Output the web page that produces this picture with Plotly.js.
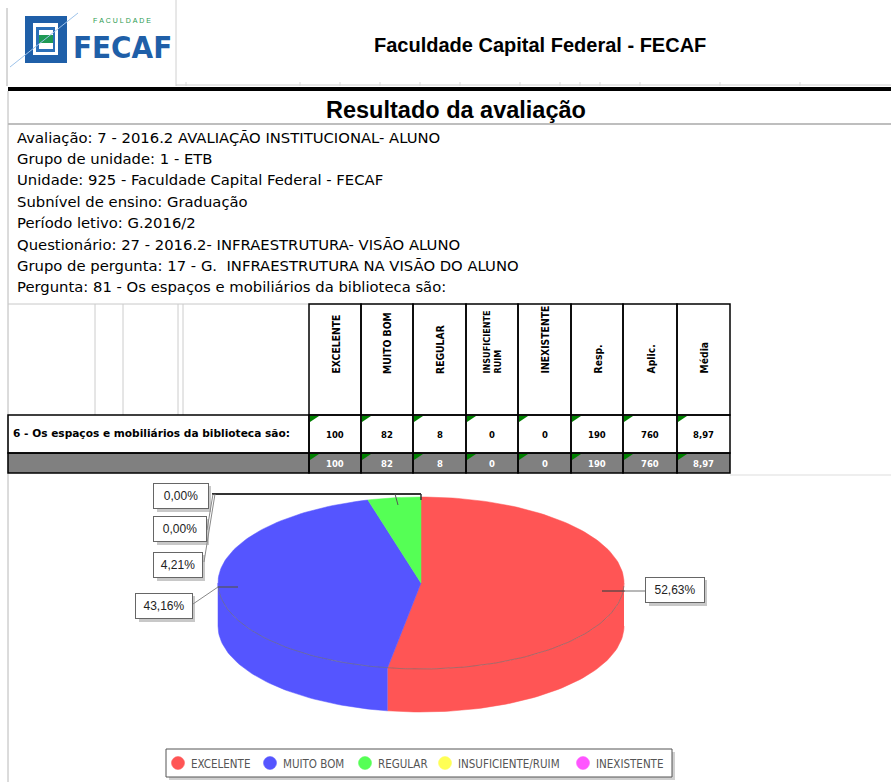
<!DOCTYPE html>
<html><head><meta charset="utf-8">
<script src="https://cdn.plot.ly/plotly-3.0.1.min.js"></script>
<style>html,body{margin:0;padding:0;background:#fff;overflow:hidden}#chart{width:891px;height:782px}</style>
</head><body><div id="chart"></div>
<script>
// ---------------- DATA ----------------
const categories = ['EXCELENTE', 'MUITO BOM', 'REGULAR', 'INSUFICIENTE/RUIM', 'INEXISTENTE'];
const headerLabels = ['EXCELENTE', 'MUITO BOM', 'REGULAR', 'INSUFICIENTE<br>RUIM', 'INEXISTENTE', 'Resp.', 'Aplic.', 'Média'];
const counts = [100, 82, 8, 0, 0];
const respondents = 190;
const applied = 760;
const mediaValue = '8,97';
const sliceColors = ['#FF5555', '#5555FF', '#55FF55', '#FFFF55', '#FF55FF'];
const infoLines = [
  'Avaliação: 7 - 2016.2 AVALIAÇÃO INSTITUCIONAL- ALUNO',
  'Grupo de unidade: 1 - ETB',
  'Unidade: 925 - Faculdade Capital Federal - FECAF',
  'Subnível de ensino: Graduação',
  'Período letivo: G.2016/2',
  'Questionário: 27 - 2016.2- INFRAESTRUTURA- VISÃO ALUNO',
  'Grupo de pergunta: 17 - G.  INFRAESTRUTURA NA VISÃO DO ALUNO',
  'Pergunta: 81 - Os espaços e mobiliários da biblioteca são:'
];
const questionLabel = '6 - Os espaços e mobiliários da biblioteca são:';
const headerTitle = 'Faculdade Capital Federal - FECAF';
const reportTitle = 'Resultado da avaliação';

// ---------------- LAYOUT CONSTANTS ----------------
const W = 891, H = 782;
const shapes = [], annotations = [], traces = [];
const NARROW = 'Liberation Sans Narrow, DejaVu Sans Condensed, Arial Narrow, sans-serif';
const SANS = 'Liberation Sans, Arial, sans-serif';

function line(x0, y0, x1, y1, color, width) {
  shapes.push({type: 'line', xref: 'x', yref: 'y', x0, y0, x1, y1, line: {color, width}});
}
function rect(x0, y0, x1, y1, fill, color, width) {
  shapes.push({type: 'rect', xref: 'x', yref: 'y', x0, y0, x1, y1, fillcolor: fill,
    line: {color: color || 'rgba(0,0,0,0)', width: width || 0}});
}
function text(t, x, y, opts) {
  annotations.push(Object.assign({text: t, x, y, xref: 'x', yref: 'y', showarrow: false,
    xanchor: 'left', yanchor: 'middle', font: {family: SANS, size: 12, color: '#000'}}, opts || {}));
}

// ---------------- HEADER ----------------
line(7, 8, 7, 86, '#b0b0b0', 1);
line(176, 0, 176, 86, '#d0d0d0', 1);
line(176, 85, W, 85, '#d0d0d0', 1);
[186, 300, 340, 380, 420, 460, 520, 560, 580, 600, 640, 720, 800].forEach(x => line(x, 82, x, 86, '#d8d8d8', 1));
rect(8, 87, W, 91, '#000');

// logo
rect(25, 16, 67, 63, '#1f5fa8');
rect(33, 23, 58, 55, '#ffffff');
rect(36, 27, 55, 52, '#2b6fb8');
rect(39, 30, 53, 49, '#ffffff');
rect(39, 35, 53, 43, '#1f9a55');
line(10, 67, 78, 13, '#9ec3ea', 1);
text('F\u00a0A\u00a0C\u00a0U\u00a0L\u00a0D\u00a0A\u00a0D\u00a0E', 122, 20, {xanchor: 'center', font: {family: SANS, size: 7, color: '#2a9a50'}});
text('<b>FECAF</b>', 122, 47, {xanchor: 'center', font: {family: 'DejaVu Sans Condensed, sans-serif', size: 31, color: '#1f5fa8'}});

text('<b>' + headerTitle + '</b>', 540, 45, {xanchor: 'center', font: {family: SANS, size: 20, color: '#000'}});

// ---------------- TITLE & INFO ----------------
text('<b>' + reportTitle + '</b>', 456, 110, {xanchor: 'center', font: {family: SANS, size: 23.5, color: '#000'}});
line(8, 124, W, 124, '#a8a8a8', 1.5);
line(8, 91, 8, H, '#b8b8b8', 1);
infoLines.forEach((t, i) => {
  text(t, 15, 137 + i * 21.4, {font: {family: 'DejaVu Sans, sans-serif', size: 14.8, color: '#000'}});
});

// ---------------- TABLE ----------------
const colB = [309, 361, 413, 466, 518, 571, 623, 677, 730];
const hTop = 304, hBot = 415, rBot = 453, tBot = 473;
line(8, hTop, 309, hTop, '#c8c8c8', 1);
[95, 123, 178, 183].forEach(x => line(x, hTop, x, hBot, '#cccccc', 1));
rect(8, rBot, 730, tBot, '#808080');
rect(8, hBot, 309, rBot, 'rgba(0,0,0,0)', '#000', 1.5);
rect(8, rBot, 309, tBot, 'rgba(0,0,0,0)', '#000', 1.5);
for (let c = 0; c < 8; c++) {
  const x0 = colB[c], x1 = colB[c + 1];
  rect(x0, hTop, x1, hBot, 'rgba(0,0,0,0)', '#000', 1.5);
  rect(x0, hBot, x1, rBot, 'rgba(0,0,0,0)', '#000', 1.5);
  rect(x0, rBot, x1, tBot, 'rgba(0,0,0,0)', '#000', 1.5);
  [hBot, rBot].forEach(y0 => {
    shapes.push({type: 'path', xref: 'x', yref: 'y',
      path: `M${x0 + 1},${y0 + 1} L${x0 + 10},${y0 + 1} L${x0 + 1},${y0 + 7} Z`,
      fillcolor: '#008000', line: {width: 0}});
  });
  const cx = (x0 + x1) / 2;
  const twoLine = headerLabels[c].indexOf('<br>') >= 0;
  annotations.push({text: '<b>' + headerLabels[c] + '</b>', x: cx, y: 376, xref: 'x', yref: 'y',
    showarrow: false, textangle: -90, xanchor: 'center', yanchor: 'bottom', align: 'left',
    font: {family: NARROW, size: twoLine ? 9 : 10.3, color: '#000'}});
}
const rowValues = counts.map(String).concat([String(respondents), String(applied), mediaValue]);
rowValues.forEach((v, c) => {
  const cx = (colB[c] + colB[c + 1]) / 2;
  text('<b>' + v + '</b>', cx, 435, {xanchor: 'center', font: {family: 'DejaVu Sans, sans-serif', size: 8.5, color: '#000'}});
  text('<b>' + v + '</b>', cx, 464, {xanchor: 'center', font: {family: 'DejaVu Sans, sans-serif', size: 8.5, color: '#fff'}});
});
text('<b>' + questionLabel + '</b>', 11, 433, {font: {family: 'DejaVu Sans, sans-serif', size: 10.6, color: '#000'}});
line(730, 475, W, 475, '#dddddd', 1);

// ---------------- 3D PIE ----------------
const pcx = 421, pcy = 583, prx = 203, pry = 86, depth = 43;
const total = counts.reduce((a, b) => a + b, 0);
function pt(deg, dy) {
  const r = deg * Math.PI / 180;
  return [pcx + prx * Math.sin(r), pcy - pry * Math.cos(r) + dy];
}
function arcPts(a0, a1, dy) {
  const n = Math.max(2, Math.ceil(Math.abs(a1 - a0) / 1.5));
  const out = [];
  for (let i = 0; i <= n; i++) out.push(pt(a0 + (a1 - a0) * i / n, dy));
  return out;
}
const slices = [];
let acc = 0;
counts.forEach((v, i) => {
  const a0 = acc / total * 360, a1 = (acc + v) / total * 360;
  slices.push({a0, a1, color: sliceColors[i], value: v});
  acc += v;
});
slices.forEach(s => {
  if (s.value <= 0) return;
  const s0 = Math.max(s.a0, 90), s1 = Math.min(s.a1, 270);
  if (s1 <= s0) return;
  const pts = arcPts(s0, s1, 0).concat(arcPts(s1, s0, depth));
  traces.push({type: 'scatter', mode: 'lines', x: pts.map(p => p[0]), y: pts.map(p => p[1]),
    fill: 'toself', fillcolor: s.color, line: {color: s.color, width: 0.5}, hoverinfo: 'skip', showlegend: false});
});
slices.forEach(s => {
  if (s.value <= 0) return;
  const pts = [[pcx, pcy]].concat(arcPts(s.a0, s.a1, 0)).concat([[pcx, pcy]]);
  traces.push({type: 'scatter', mode: 'lines', x: pts.map(p => p[0]), y: pts.map(p => p[1]),
    fill: 'toself', fillcolor: s.color, line: {color: s.color, width: 0.5}, hoverinfo: 'skip', showlegend: false});
});
const rim = arcPts(92, 268, 0);
traces.push({type: 'scatter', mode: 'lines', x: rim.map(p => p[0]), y: rim.map(p => p[1]),
  line: {color: 'rgba(110,110,110,0.6)', width: 1}, hoverinfo: 'skip', showlegend: false});

// pie labels
const pct = v => (v / total * 100).toFixed(2).replace('.', ',') + '%';
const labelBoxes = [[675, 590, 58], [164, 606, 56], [178, 565, 48], [180, 529, 52], [181, 496, 54]];
labelBoxes.forEach((b, i) => {
  const [x, y, w] = b;
  rect(x - w / 2 + 3, y - 10, x + w / 2 + 3, y + 16, '#c8c8c8');
  annotations.push({text: pct(counts[i]), x, y, xref: 'x', yref: 'y', showarrow: false,
    xanchor: 'center', yanchor: 'middle', width: w - 4, height: 20, borderpad: 2,
    bgcolor: '#fff', bordercolor: '#666', borderwidth: 1,
    font: {family: SANS, size: 12, color: '#222'}});
});
line(602, 591, 625, 591, '#444', 1.2);
line(625, 591, 646, 591, '#888', 1.2);
line(218, 587, 238, 587, '#555', 1.2);
line(218, 587, 193, 604, '#888', 1);
line(212, 494, 421, 494, '#333', 2);
line(421, 494, 421, 500, '#333', 1.5);
line(395, 494, 398, 505, '#555', 1);
line(213, 494, 207, 530, '#888', 1);
line(215, 494, 204, 562, '#888', 1);

// legend
rect(169, 752, 675, 780, '#d0d0d0');
rect(166, 749, 672, 777, '#ffffff', '#555', 1);
const legendX = [178, 270, 365, 445, 583];
categories.forEach((c, i) => {
  const x = legendX[i];
  shapes.push({type: 'circle', xref: 'x', yref: 'y', x0: x - 6.5, y0: 756.5, x1: x + 6.5, y1: 769.5,
    fillcolor: sliceColors[i], line: {color: sliceColors[i], width: 0.5}});
  text(c, x + 11, 763.5, {font: {family: NARROW, size: 11.5, color: '#555'}});
});

Plotly.newPlot('chart', traces, {
  width: W, height: H, autosize: false,
  margin: {l: 0, r: 0, t: 0, b: 0, pad: 0},
  paper_bgcolor: '#fff', plot_bgcolor: '#fff',
  xaxis: {range: [0, W], visible: false, fixedrange: true},
  yaxis: {range: [H, 0], visible: false, fixedrange: true},
  showlegend: false, shapes, annotations
}, {staticPlot: true});
</script></body></html>
